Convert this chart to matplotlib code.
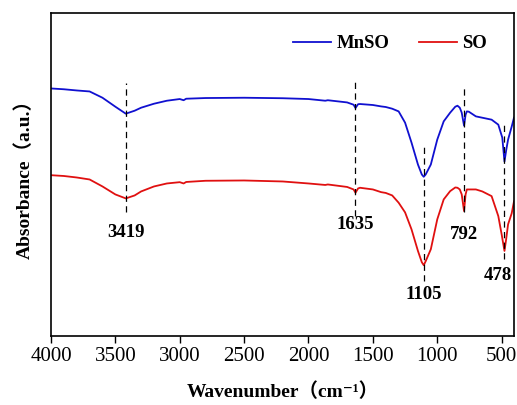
import matplotlib
matplotlib.use("Agg")
import matplotlib.pyplot as plt

# ---- data (arbitrary absorbance units) ----
wn_mnso = [4000, 3900, 3800, 3700, 3600, 3500, 3419, 3350, 3300, 3200, 3100, 3000, 2970, 2950,
           2800, 2500, 2200, 2000, 1870, 1850, 1700, 1650, 1635, 1615, 1600, 1500, 1436, 1400,
           1350, 1300, 1250, 1200, 1150, 1120, 1105, 1090, 1050, 1000, 950, 900, 860, 843, 825,
           810, 792, 780, 770, 755, 700, 578, 526, 495, 478, 465, 450, 422, 404]
ab_mnso = [2.483, 2.475, 2.463, 2.453, 2.39, 2.30, 2.23, 2.26, 2.29, 2.33, 2.36, 2.377, 2.365, 2.38,
           2.387, 2.39, 2.385, 2.377, 2.36, 2.365, 2.343, 2.32, 2.287, 2.325, 2.327, 2.317, 2.303, 2.297,
           2.28, 2.253, 2.14, 1.94, 1.72, 1.62, 1.597, 1.62, 1.72, 1.97, 2.153, 2.24, 2.30, 2.31, 2.29,
           2.24, 2.11, 2.22, 2.253, 2.25, 2.203, 2.17, 2.12, 1.99, 1.75, 1.86, 1.97, 2.10, 2.19]

wn_so = [4000, 3900, 3800, 3700, 3600, 3500, 3419, 3350, 3300, 3200, 3100, 3000, 2970, 2950,
         2800, 2500, 2200, 2000, 1870, 1850, 1700, 1650, 1635, 1615, 1600, 1500, 1436, 1400,
         1350, 1300, 1250, 1200, 1150, 1120, 1105, 1090, 1050, 1000, 950, 900, 860, 843, 825,
         810, 792, 780, 770, 700, 650, 578, 526, 500, 478, 465, 450, 422, 404]
ab_so = [1.613, 1.605, 1.59, 1.57, 1.50, 1.42, 1.38, 1.41, 1.45, 1.50, 1.53, 1.543, 1.53, 1.545,
         1.557, 1.56, 1.55, 1.53, 1.515, 1.52, 1.495, 1.47, 1.437, 1.48, 1.487, 1.47, 1.443, 1.435,
         1.41, 1.337, 1.24, 1.07, 0.853, 0.74, 0.71, 0.75, 0.87, 1.17, 1.37, 1.453, 1.49, 1.487, 1.47,
         1.42, 1.253, 1.42, 1.47, 1.47, 1.45, 1.403, 1.203, 1.02, 0.853, 0.97, 1.12, 1.23, 1.35]

peaks = [3419, 1635, 1105, 792, 478]
peak_labels = ["3419", "1635", "1105", "792", "478"]
series_names = ["MnSO", "SO"]

# ---- layout / style (not data) ----
line_ranges = [(1.24, 2.54), (1.20, 2.59), (0.55, 1.92), (1.24, 2.51), (0.77, 2.14)]
label_pos = [(3419, 1.04), (1635, 1.12), (1105, 0.42), (792, 1.02), (533, 0.61)]

FAM = ['Liberation Serif', 'Noto Sans CJK SC', 'DejaVu Serif']
plt.rcParams['font.family'] = FAM

fig = plt.figure(figsize=(5.17, 4.05), dpi=100)
ax = fig.add_axes([0.0986, 0.1704, 0.8956, 0.7975])

ax.plot(wn_mnso, ab_mnso, color='#1010d0', lw=1.3, label=series_names[0])
ax.plot(wn_so, ab_so, color='#e01010', lw=1.3, label=series_names[1])

for p, (y0, y1) in zip(peaks, line_ranges):
    ax.plot([p, p], [y0, y1], color='black', lw=0.9, ls=(0, (5, 3.5)))
for lab, (x, y) in zip(peak_labels, label_pos):
    ax.text(x, y, lab, ha='center', va='center', fontsize=13.5, fontweight='bold')

ax.set_xlim(4000, 404)
ax.set_ylim(0, 3.24)
ax.set_xticks([4000, 3500, 3000, 2500, 2000, 1500, 1000, 500])
ax.set_yticks([])
ax.tick_params(axis='x', direction='out', length=5, width=1.0, labelsize=15, pad=3)
for s in ax.spines.values():
    s.set_linewidth(1.2)

ax.set_xlabel('Wavenumber（cm\u207b\u00b9）', fontsize=14, fontweight='bold', labelpad=12)
ax.set_ylabel('Absorbance（a.u.）', fontsize=14, fontweight='bold', labelpad=12)

leg = ax.legend(ncol=2, frameon=False, loc='center', bbox_to_anchor=(0.733, 0.905),
                prop={'family': 'Liberation Serif', 'weight': 'bold', 'size': 13.5},
                handlelength=2.0, handletextpad=0.3, columnspacing=1.6)

fig.savefig('out.png', dpi=100)
